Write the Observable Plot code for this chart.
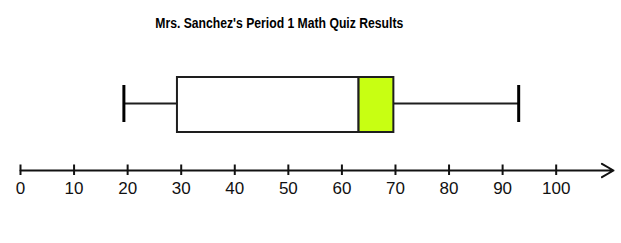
<!DOCTYPE html>
<html><head><meta charset="utf-8">
<script src="https://cdn.jsdelivr.net/npm/d3@7"></script>
<script src="https://cdn.jsdelivr.net/npm/@observablehq/plot@0.6"></script>
<style>
html,body{margin:0;padding:0;background:#fff;}
</style>
</head><body>
<div id="chart"></div>
<script>
const title = "Mrs. Sanchez's Period 1 Math Quiz Results";
const statNames = ["min", "q1", "median", "q3", "max"];
const statValues = [19.3, 29.3, 63.2, 69.7, 93.0];
const tickValues = [0, 10, 20, 30, 40, 50, 60, 70, 80, 90, 100];
const axisEnd = 110.7;

const s = Object.fromEntries(statNames.map((n, i) => [n, statValues[i]]));
const lineColor = "#1e1e1e";

const BOX_TOP = 77, BOX_BOT = 132, MID = 103, CAP_TOP = 85, CAP_BOT = 122;
const AXIS_Y = 170, TICK_UP = 164.5, TICK_DN = 175, LABEL_Y = 188, TITLE_Y = 23;

const chart = Plot.plot({
  width: 621,
  height: 243,
  margin: 0,
  x: {domain: [0, axisEnd], range: [20, 613], axis: null},
  y: {domain: [0, 243], range: [0, 243], axis: null},
  marks: [
    Plot.ruleY([MID], {x1: s.min, x2: s.q1, stroke: lineColor, strokeWidth: 2}),
    Plot.ruleY([MID], {x1: s.q3, x2: s.max, stroke: lineColor, strokeWidth: 2}),
    Plot.ruleX([s.min, s.max], {y1: CAP_TOP, y2: CAP_BOT, stroke: "#000", strokeWidth: 3}),
    Plot.rect([{a: s.q1, b: s.median, f: "#ffffff"}, {a: s.median, b: s.q3, f: "#c8ff12"}],
      {x1: "a", x2: "b", y1: BOX_TOP, y2: BOX_BOT, fill: "f", stroke: lineColor, strokeWidth: 2}),
    Plot.arrow([{x1: 0, x2: axisEnd}], {x1: "x1", x2: "x2", y1: AXIS_Y, y2: AXIS_Y,
      stroke: "#111", strokeWidth: 2, headLength: 10}),
    Plot.ruleX(tickValues, {y1: TICK_UP, y2: TICK_DN, stroke: "#111", strokeWidth: 2}),
    Plot.text(tickValues, {x: d => d, y: LABEL_Y, text: d => String(d), fontSize: 17,
      fontFamily: "Liberation Sans, Arial, sans-serif", fill: "#111"}),
    Plot.text([title], {x: 48.3, y: TITLE_Y, text: d => d, fontSize: 14, fontWeight: "bold",
      fontFamily: "Liberation Sans, Arial, sans-serif", fill: "#000", className: "ttl"})
  ]
});
chart.querySelectorAll(".ttl text").forEach(t => {
  t.setAttribute("textLength", "248");
  t.setAttribute("lengthAdjust", "spacingAndGlyphs");
});
document.getElementById("chart").append(chart);
</script>
</body></html>
